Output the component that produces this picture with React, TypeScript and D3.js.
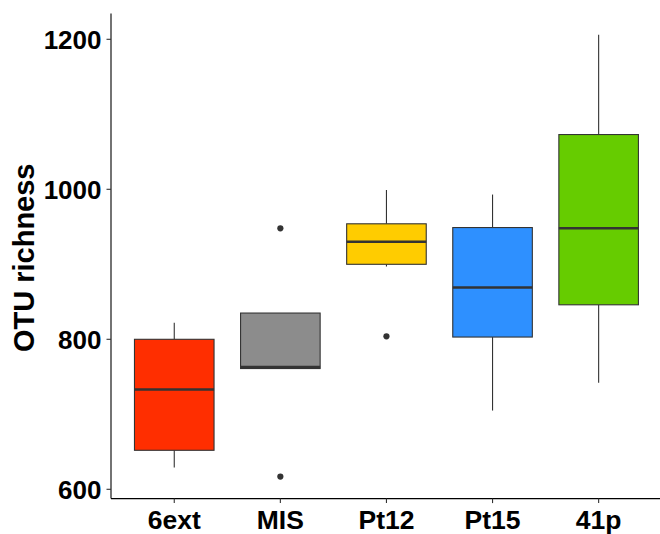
import React from "react";
import * as d3 from "d3";

// Sample groups and their box-plot summaries (OTU richness)
const groups = ["6ext", "MIS", "Pt12", "Pt15", "41p"];
const lowerWhisker = [629, 761, 897, 705, 742];
const lowerHinge = [652, 761, 900, 803, 846];
const medians = [733, 763, 930, 869, 948];
const upperHinge = [800, 835, 954, 949, 1073];
const upperWhisker = [822, 835, 999, 993, 1206];
const outliers = [[], [617, 948], [804], [], []];
const fills = ["#FF2E00", "#8C8C8C", "#FFCC00", "#2E90FF", "#66CC00"];
const yTicks = [600, 800, 1000, 1200];

const W = 660;
const H = 534;

export default function App() {
  const x = d3
    .scalePoint<string>()
    .domain(groups)
    .range([110.6, 662.3])
    .padding(0.6);
  const y = d3.scaleLinear().domain([587.6, 1234.4]).range([498.6, 13.5]);
  const boxW = x.step() * 0.75;
  const axisX = 111;
  const axisY = 498.6;
  const dark = "#333333";

  return (
    <svg
      width={W}
      height={H}
      style={{ position: "absolute", left: 0, top: 0 }}
      fontFamily="'Liberation Sans', Arial, sans-serif"
    >
      <rect width={W} height={H} fill="#ffffff" />
      {groups.map((g, i) => {
        const cx = x(g)!;
        return (
          <g key={g}>
            <line x1={cx} x2={cx} y1={y(upperWhisker[i])} y2={y(upperHinge[i])} stroke={dark} strokeWidth={1.1} />
            <line x1={cx} x2={cx} y1={y(lowerHinge[i])} y2={y(lowerWhisker[i])} stroke={dark} strokeWidth={1.1} />
            <rect
              x={cx - boxW / 2}
              y={y(upperHinge[i])}
              width={boxW}
              height={y(lowerHinge[i]) - y(upperHinge[i])}
              fill={fills[i]}
              stroke={dark}
              strokeWidth={1.1}
            />
            <line
              x1={cx - boxW / 2}
              x2={cx + boxW / 2}
              y1={y(medians[i])}
              y2={y(medians[i])}
              stroke={dark}
              strokeWidth={2.6}
            />
            {outliers[i].map((v, j) => (
              <circle key={j} cx={cx} cy={y(v)} r={3.1} fill={dark} />
            ))}
          </g>
        );
      })}
      {/* axes */}
      <line x1={axisX} x2={axisX} y1={y(1234.4)} y2={axisY} stroke="#000" strokeWidth={1.1} />
      <line x1={axisX} x2={W} y1={axisY} y2={axisY} stroke="#000" strokeWidth={1.1} />
      {yTicks.map((t) => (
        <g key={t}>
          <line x1={axisX - 4.5} x2={axisX} y1={y(t)} y2={y(t)} stroke={dark} strokeWidth={1.1} />
          <text
            x={101.5}
            y={y(t)}
            dy="0.36em"
            textAnchor="end"
            fontSize={26}
            fontWeight="bold"
            fill="#000"
          >
            {t}
          </text>
        </g>
      ))}
      {groups.map((g) => (
        <g key={g}>
          <line x1={x(g)!} x2={x(g)!} y1={axisY} y2={axisY + 4.5} stroke={dark} strokeWidth={1.1} />
          <text x={x(g)!} y={528.5} textAnchor="middle" fontSize={26.5} fontWeight="bold" fill="#000">
            {g}
          </text>
        </g>
      ))}
      <text
        transform={`translate(34.3,257.8) rotate(-90)`}
        textAnchor="middle"
        fontSize={29}
        fontWeight="bold"
        fill="#000"
      >
        OTU richness
      </text>
    </svg>
  );
}
